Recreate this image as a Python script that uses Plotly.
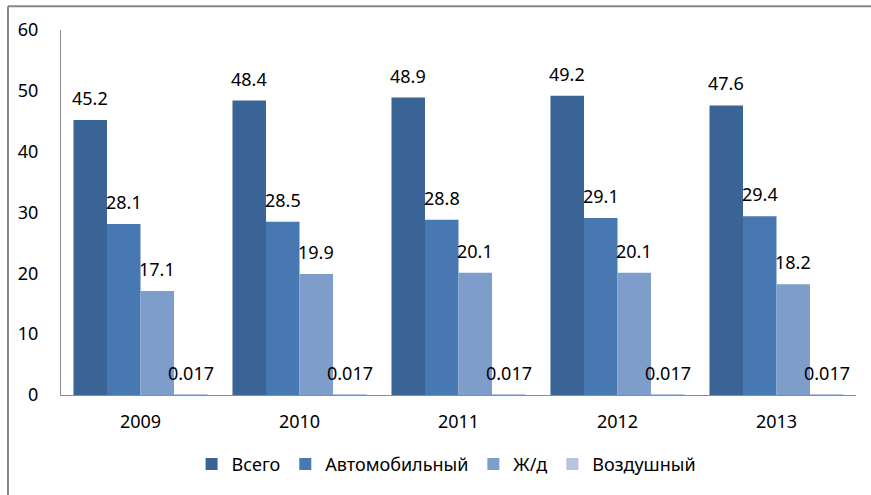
import plotly.graph_objects as go

# Грузооборот по видам транспорта
years = ["2009", "2010", "2011", "2012", "2013"]
series_names = ["Всего", "Автомобильный", "Ж/д", "Воздушный"]
vsego = [45.2, 48.4, 48.9, 49.2, 47.6]
avto = [28.1, 28.5, 28.8, 29.1, 29.4]
zhd = [17.1, 19.9, 20.1, 20.1, 18.2]
vozd = [0.017, 0.017, 0.017, 0.017, 0.017]
y_ticks = [0, 10, 20, 30, 40, 50, 60]

colors = ["#3B6496", "#4878B2", "#7E9DCA", "#B3C5E2"]
values = [vsego, avto, zhd, vozd]

FONT = "Noto Sans, Open Sans, DejaVu Sans, sans-serif"

fig = go.Figure()
for name, vals, col in zip(series_names, values, colors):
    fig.add_trace(go.Bar(
        name=name, x=years, y=vals, marker=dict(color=col, line=dict(width=0)),
    ))

# value labels above each bar (x given as category index)
n = len(series_names)
group_frac = 1 - 0.157
for i, (name, vals) in enumerate(zip(series_names, values)):
    for j, v in enumerate(vals):
        fig.add_annotation(
            x=j + (i - (n - 1) / 2) * group_frac / n, y=v,
            text=f"{v:g}", showarrow=False,
            xref="x", yref="y", yanchor="bottom", yshift=8,
            font=dict(family=FONT, size=18, color="#000000"),
        )

# outer chart frame (top and left edges)
frame = dict(color="#868686", width=2)
fig.add_shape(type="line", xref="paper", yref="paper",
              x0=-0.0667, x1=1.02, y0=1.0654, y1=1.0654, line=frame)
fig.add_shape(type="line", xref="paper", yref="paper",
              x0=-0.0667, x1=-0.0667, y0=1.0654, y1=-0.28, line=frame)

fig.update_layout(
    width=871, height=495,
    margin=dict(l=61, r=15, t=30, b=98),
    paper_bgcolor="white", plot_bgcolor="white",
    barmode="group", bargap=0.157, bargroupgap=0,
    font=dict(family=FONT, size=18, color="#000000"),
    showlegend=True,
    legend=dict(
        orientation="h", x=0.485, xanchor="center",
        y=-0.19, yanchor="middle",
        font=dict(family=FONT, size=18, color="#000000"),
        traceorder="normal",
    ),
    xaxis=dict(
        type="category", range=[-0.5, len(years) - 0.5],
        showline=True, linecolor="#8C8C8C", linewidth=1,
        showgrid=False, ticks="", ticklabelstandoff=10,
        tickfont=dict(family=FONT, size=18),
    ),
    yaxis=dict(
        range=[0, 60], tickvals=y_ticks,
        showline=True, linecolor="#8C8C8C", linewidth=1,
        showgrid=False, zeroline=False, ticks="", ticklabelstandoff=18,
        tickfont=dict(family=FONT, size=18),
    ),
)

fig.write_html("out.html")
